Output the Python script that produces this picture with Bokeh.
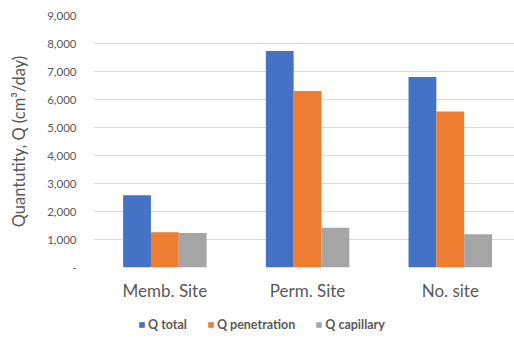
from bokeh.plotting import figure
from bokeh.layouts import column
from bokeh.models import (ColumnDataSource, Range1d, FixedTicker,
                          CustomJSTickFormatter, Legend, LegendItem)
from bokeh.embed import file_html
from bokeh.resources import INLINE

# Data
sites = ["Memb. Site", "Perm. Site", "No. site"]
q_total = [2580, 7730, 6800]
q_penetration = [1260, 6300, 5570]
q_capillary = [1230, 1420, 1190]
series_names = ["Q total", "Q penetration", "Q capillary"]
series_colors = ["#4472C4", "#ED7D31", "#A5A5A5"]
y_ticks = [0, 1000, 2000, 3000, 4000, 5000, 6000, 7000, 8000, 9000]

FONT = "Lato"
TEXT_COLOR = "#595959"

p = figure(width=514, height=312, output_backend="svg", toolbar_location=None,
           x_range=Range1d(-0.5, 2.45), y_range=Range1d(0, 9000),
           min_border_left=93, min_border_right=0, min_border_top=15,
           min_border_bottom=45)
p.outline_line_color = None
p.background_fill_color = "white"
p.border_fill_color = "white"

bar_w = 0.195
offsets = [-bar_w, 0.0, bar_w]
series_values = [q_total, q_penetration, q_capillary]
sources = []
for off, vals, col in zip(offsets, series_values, series_colors):
    src = ColumnDataSource(dict(x=[i + off for i in range(len(sites))], top=vals))
    sources.append(src)
    p.vbar(x="x", top="top", bottom=0, width=bar_w, source=src,
           fill_color=col, line_color=None)

# Y axis
p.yaxis.ticker = FixedTicker(ticks=y_ticks)
p.yaxis.formatter = CustomJSTickFormatter(code="""
    return tick == 0 ? '-' : tick.toLocaleString('en-US');
""")
p.yaxis.axis_line_color = None
p.yaxis.major_tick_line_color = None
p.yaxis.minor_tick_line_color = None
p.yaxis.major_label_text_font = FONT
p.yaxis.major_label_text_font_size = "11.5px"
p.yaxis.major_label_text_color = TEXT_COLOR
p.yaxis.major_label_standoff = 11
p.yaxis.axis_label = "Quantutity, Q (cm³/day)"
p.yaxis.axis_label_text_font = FONT
p.yaxis.axis_label_text_font_style = "normal"
p.yaxis.axis_label_text_font_size = "16.5px"
p.yaxis.axis_label_text_color = TEXT_COLOR
p.yaxis.axis_label_standoff = 15

# X axis
p.xaxis.ticker = FixedTicker(ticks=[0, 1, 2])
p.xaxis.major_label_overrides = {i: s for i, s in enumerate(sites)}
p.xaxis.axis_line_color = None
p.xaxis.major_tick_line_color = None
p.xaxis.minor_tick_line_color = None
p.xaxis.major_label_text_font = FONT
p.xaxis.major_label_text_font_size = "17px"
p.xaxis.major_label_text_color = TEXT_COLOR
p.xaxis.major_label_standoff = 6

# Grid
p.xgrid.grid_line_color = None
p.ygrid.ticker = FixedTicker(ticks=y_ticks)
p.ygrid.grid_line_color = "#D9D9D9"
p.ygrid.grid_line_width = 1

# Legend strip under the chart; its bars share the series sources but are
# hidden, so only the legend swatches show
lg = figure(width=514, height=26, output_backend="svg", toolbar_location=None,
            x_axis_type=None, y_axis_type=None,
            x_range=Range1d(-0.5, 2.45), y_range=Range1d(0, 9000),
            min_border_left=0, min_border_right=0, min_border_top=0,
            min_border_bottom=0)
lg.outline_line_color = None
lg.grid.grid_line_color = None
lg.background_fill_color = "white"
lg.border_fill_color = "white"
items = []
for name, col, src in zip(series_names, series_colors, sources):
    r = lg.vbar(x="x", top="top", width=bar_w, source=src,
                fill_color=col, line_color=None, visible=False)
    items.append(LegendItem(label=name, renderers=[r]))

legend = Legend(items=items, orientation="horizontal", location=(45, 6),
                label_text_font=FONT, label_text_font_size="12.5px",
                label_text_font_style="bold", label_text_color=TEXT_COLOR,
                glyph_width=7, glyph_height=7, label_standoff=3, spacing=20,
                padding=0, margin=0, border_line_color=None,
                background_fill_alpha=0, inactive_fill_alpha=0)
lg.add_layout(legend, "center")

layout = column(p, lg, spacing=0)
open("out.html", "w").write(file_html(layout, INLINE))
